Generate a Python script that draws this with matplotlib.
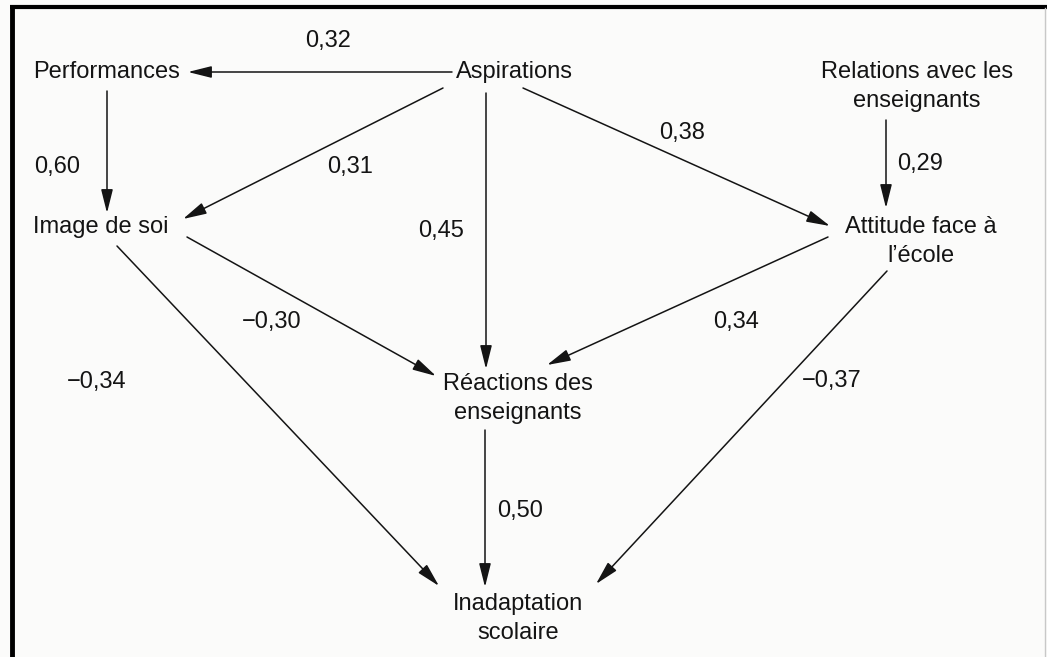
import matplotlib.pyplot as plt
from matplotlib.patches import FancyArrowPatch

plt.rcParams["font.family"] = ["Liberation Sans", "DejaVu Sans"]

W, H = 1047, 657
INK = "#141414"
LINE_GAP = 29

# nodes of the path model (one entry per text line list)
nodes = [["Performances"], ["Aspirations"], ["Relations avec les", "enseignants"],
         ["Image de soi"], ["Attitude face à", "l’école"],
         ["Réactions des", "enseignants"], ["Inadaptation", "scolaire"]]
node_x = [33, 514, 917, 33, 921, 518, 518]
node_y = [78, 78, 78, 233, 233, 390, 610]
node_ha = ["left", "center", "center", "left", "center", "center", "center"]

# path coefficients, one per arrow
coefs = ["0,32", "0,60", "0,31", "0,45", "0,38", "0,29",
         "−0,30", "0,34", "−0,34", "0,50", "−0,37"]
coef_x = [328, 57, 350, 441, 682, 920, 272, 736, 97, 520, 832]
coef_y = [47, 173, 173, 237, 139, 170, 328, 328, 388, 517, 387]

# arrow start / end points
arrow_from = [(452, 72), (107, 91), (443, 88), (486, 93), (523, 88), (886, 120),
              (187, 237), (828, 237), (117, 246), (485, 430), (887, 271)]
arrow_to = [(188, 72), (107, 213), (183, 219), (486, 369), (830, 226), (886, 208),
            (436, 376), (547, 365), (439, 586), (485, 587), (596, 584)]

fig = plt.figure(figsize=(W / 100, H / 100), dpi=100)
fig.patch.set_facecolor("#fbfbfa")
ax = fig.add_axes([0, 0, 1, 1])
ax.set_xlim(0, W)
ax.set_ylim(H, 0)
ax.axis("off")

for lines, x, y, ha in zip(nodes, node_x, node_y, node_ha):
    for i, line in enumerate(lines):
        ax.text(x, y + i * LINE_GAP, line, ha=ha, va="baseline",
                fontsize=17, color=INK)

for c, x, y in zip(coefs, coef_x, coef_y):
    ax.text(x, y, c, ha="center", va="baseline", fontsize=17, color=INK)

for p0, p1 in zip(arrow_from, arrow_to):
    ax.add_patch(FancyArrowPatch(p0, p1, arrowstyle="-|>,head_length=1.2,head_width=0.3",
                                 mutation_scale=12, lw=1.1, color=INK,
                                 shrinkA=0, shrinkB=0))

# frame of the scanned figure
ax.plot([10, W], [6.5, 6.5], color="black", lw=3, solid_capstyle="butt")
ax.plot([12, 12], [5, H], color="black", lw=3.5, solid_capstyle="butt")
ax.plot([1045, 1045], [8, H], color="#c8c8c8", lw=1)

fig.savefig("out.png", dpi=100, facecolor=fig.get_facecolor())
